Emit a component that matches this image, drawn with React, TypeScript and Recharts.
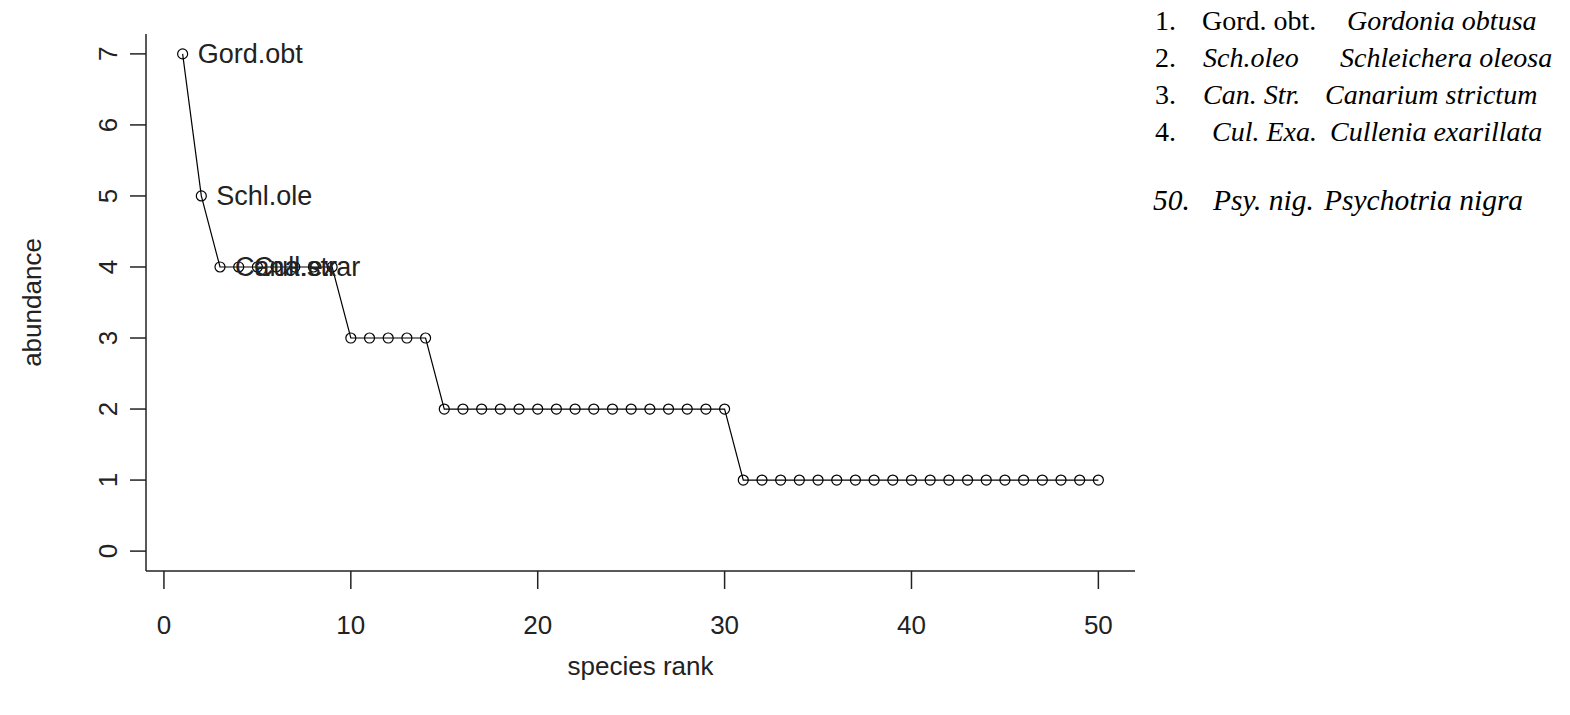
import { Label, LabelList, Line, LineChart, XAxis, YAxis } from "recharts"

const ranks = [1, 2, 3, 4, 5, 6, 7, 8, 9, 10, 11, 12, 13, 14, 15, 16, 17, 18, 19, 20, 21, 22, 23, 24, 25, 26, 27, 28, 29, 30, 31, 32, 33, 34, 35, 36, 37, 38, 39, 40, 41, 42, 43, 44, 45, 46, 47, 48, 49, 50]
const abundance = [7, 5, 4, 4, 4, 4, 4, 4, 4, 3, 3, 3, 3, 3, 2, 2, 2, 2, 2, 2, 2, 2, 2, 2, 2, 2, 2, 2, 2, 2, 1, 1, 1, 1, 1, 1, 1, 1, 1, 1, 1, 1, 1, 1, 1, 1, 1, 1, 1, 1]
const pointLabels = ["Gord.obt", "Schl.ole", "Cana.str", "Cull.exar"]
const xTicks = [0, 10, 20, 30, 40, 50]
const yTicks = [0, 1, 2, 3, 4, 5, 6, 7]

const keyNums = ["1.", "2.", "3.", "4.", "50."]
const keyAbbr = ["Gord. obt.", "Sch.oleo", "Can. Str.", "Cul. Exa.", "Psy. nig."]
const keyNames = ["Gordonia obtusa", "Schleichera oleosa", "Canarium strictum", "Cullenia exarillata", "Psychotria nigra"]

const data = ranks.map((r, i) => ({ rank: r, abundance: abundance[i], label: pointLabels[i] ?? "" }))

const ink = "#222"
const sans = "'Liberation Sans', Arial, sans-serif"

function XTick({ x, y, payload }: any) {
  return <text x={x} y={y + 34} textAnchor="middle" dominantBaseline="central" fontFamily={sans} fontSize={26} fill={ink}>{payload.value}</text>
}

function YTick({ x, y, payload }: any) {
  const cx = x - 20
  return <text x={cx} y={y} transform={`rotate(-90 ${cx} ${y})`} textAnchor="middle" dominantBaseline="central" fontFamily={sans} fontSize={26} fill={ink}>{payload.value}</text>
}

function PointLabel({ x, y, value }: any) {
  if (!value) return null
  return <text x={x + 15} y={y} dominantBaseline="central" fontFamily={sans} fontSize={27} fill={ink}>{value}</text>
}

// positions of the species key, per row
const keyTop = [4, 41, 78, 115, 183]
const keySize = [28, 28, 28, 28, 29.5]
const numLeft = [15, 15, 15, 15, 13]
const abbrLeft = [62, 63, 63, 72, 73]
const nameLeft = [207, 200, 185, 190, 184]

export default function App() {
  return (
    <div style={{ position: "absolute", left: 0, top: 0, width: 1570, height: 715, background: "#fff" }}>
      <LineChart width={1570} height={715} data={data} margin={{ top: 34, right: 435, left: 0, bottom: 0 }}>
        <XAxis dataKey="rank" type="number" domain={[-0.96, 51.96]} ticks={xTicks} allowDataOverflow height={144} tickSize={18} stroke={ink} strokeWidth={1.5} tick={<XTick />}>
          <Label content={({ viewBox }: any) => <text x={viewBox.x + viewBox.width / 2} y={666} textAnchor="middle" dominantBaseline="central" fontFamily={sans} fontSize={26} fill={ink}>species rank</text>} />
        </XAxis>
        <YAxis type="number" domain={[-0.28, 7.28]} ticks={yTicks} allowDataOverflow width={146} tickSize={16} stroke={ink} strokeWidth={1.5} tick={<YTick />}>
          <Label content={({ viewBox }: any) => { const cy = viewBox.y + viewBox.height / 2; return <text x={32} y={cy} transform={`rotate(-90 32 ${cy})`} textAnchor="middle" dominantBaseline="central" fontFamily={sans} fontSize={26} fill={ink}>abundance</text> }} />
        </YAxis>
        <Line dataKey="abundance" type="linear" stroke="#000" strokeWidth={1.2} dot={{ r: 5, stroke: "#000", strokeWidth: 1.2, fill: "none" }} isAnimationActive={false}>
          <LabelList dataKey="label" content={<PointLabel />} />
        </Line>
      </LineChart>
      <div style={{ position: "absolute", left: 1140, top: 0, fontFamily: "'Liberation Serif', 'Times New Roman', serif", color: "#000" }}>
        {keyNums.map((n, i) => (
          <div key={n} style={{ position: "absolute", top: keyTop[i], left: 0, whiteSpace: "nowrap", lineHeight: "34px", fontSize: keySize[i] }}>
            <span style={{ position: "absolute", left: numLeft[i], fontStyle: i < 4 ? "normal" : "italic" }}>{n}</span>
            <span style={{ position: "absolute", left: abbrLeft[i], fontStyle: i === 0 ? "normal" : "italic" }}>{keyAbbr[i]}</span>
            <span style={{ position: "absolute", left: nameLeft[i], fontStyle: "italic" }}>{keyNames[i]}</span>
          </div>
        ))}
      </div>
    </div>
  )
}
